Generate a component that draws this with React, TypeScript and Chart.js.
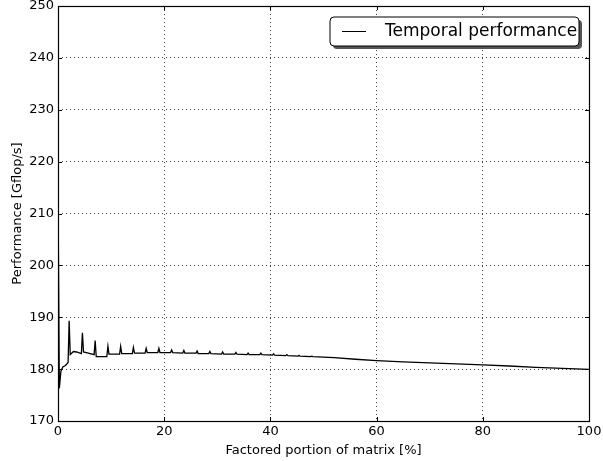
import React, { useEffect, useRef } from "react";
import { Chart, registerables } from "chart.js";

Chart.register(...registerables);

const seriesLabel = "Temporal performance";
const xTitle = "Factored portion of matrix [%]";
const yTitle = "Performance [Gflop/s]";

const portion: number[] = [
  0, 0.25, 0.55, 0.9, 1.4, 1.9, 2.1, 2.3, 2.9, 3.5, 4.4, 4.6, 4.8, 5.7, 6.8, 7.0, 7.2, 8.3, 9.2, 9.4, 9.6,
  10.7, 11.6, 11.8, 12.0, 13.1, 14.0, 14.2, 14.4, 16.4, 16.6, 16.8, 18.8, 19.0, 19.2, 21.2, 21.4, 21.6,
  23.5, 23.7, 23.9, 26.0, 26.2, 26.4, 28.4, 28.6, 28.8, 30.8, 31.0, 31.2, 33.3, 33.5, 33.7, 35.6, 35.8,
  36.0, 38.0, 38.2, 38.4, 40.4, 40.6, 40.8, 42.9, 43.1, 43.3, 45.2, 45.4, 45.6, 47.6, 47.8, 48.0, 52,
  56, 60, 65, 70, 75, 80, 85, 90, 95, 100,
];

const gflops: number[] = [
  215, 176.3, 179.6, 180.4, 180.7, 181.3, 189.3, 182.8, 183.4, 183.3, 183.0, 187.0, 183.3, 183.1, 182.8,
  185.5, 182.4, 182.4, 182.4, 184.4, 182.9, 182.9, 182.9, 184.4, 183.0, 183.0, 183.0, 184.2, 183.1,
  183.1, 184.0, 183.2, 183.2, 184.0, 183.2, 183.2, 183.7, 183.2, 183.1, 183.6, 183.1, 183.1, 183.5,
  183.0, 183.0, 183.4, 183.0, 182.9, 183.3, 182.9, 182.9, 183.2, 182.9, 182.8, 183.1, 182.8, 182.8,
  183.1, 182.8, 182.7, 182.95, 182.7, 182.6, 182.8, 182.6, 182.5, 182.65, 182.5, 182.4, 182.5, 182.4,
  182.2, 181.9, 181.65, 181.4, 181.2, 181.0, 180.8, 180.6, 180.35, 180.15, 179.95,
];

const FONT = "'DejaVu Sans', sans-serif";

const framePlugin = {
  id: "frame",
  afterDraw(chart: any) {
    const { ctx, chartArea } = chart;
    const { left, right, top, bottom } = chartArea;
    const xs = chart.scales.x;
    const ys = chart.scales.y;
    ctx.save();
    ctx.strokeStyle = "#000";
    ctx.lineWidth = 1;
    ctx.beginPath();
    xs.ticks.forEach((t: any) => {
      const px = Math.round(xs.getPixelForValue(t.value)) + 0.5;
      ctx.moveTo(px, bottom);
      ctx.lineTo(px, bottom - 4);
      ctx.moveTo(px, top);
      ctx.lineTo(px, top + 4);
    });
    ys.ticks.forEach((t: any) => {
      const py = Math.round(ys.getPixelForValue(t.value)) + 0.5;
      ctx.moveTo(left, py);
      ctx.lineTo(left + 4, py);
      ctx.moveTo(right, py);
      ctx.lineTo(right - 4, py);
    });
    ctx.stroke();
    ctx.lineWidth = 1.2;
    ctx.strokeRect(Math.round(left) + 0.5, Math.round(top) + 0.5, Math.round(right - left), Math.round(bottom - top));

    const bx = right - 259;
    const by = top + 11;
    const bw = 249;
    const bh = 29;
    const r = 4;
    const rr = (x: number, y: number, w: number, h: number) => {
      ctx.beginPath();
      ctx.moveTo(x + r, y);
      ctx.lineTo(x + w - r, y);
      ctx.quadraticCurveTo(x + w, y, x + w, y + r);
      ctx.lineTo(x + w, y + h - r);
      ctx.quadraticCurveTo(x + w, y + h, x + w - r, y + h);
      ctx.lineTo(x + r, y + h);
      ctx.quadraticCurveTo(x, y + h, x, y + h - r);
      ctx.lineTo(x, y + r);
      ctx.quadraticCurveTo(x, y, x + r, y);
      ctx.closePath();
    };
    rr(bx + 3, by + 3, bw, bh);
    ctx.fillStyle = "#555";
    ctx.fill();
    rr(bx, by, bw, bh);
    ctx.fillStyle = "#fff";
    ctx.fill();
    ctx.lineWidth = 1;
    ctx.strokeStyle = "#000";
    ctx.stroke();
    ctx.beginPath();
    ctx.moveTo(bx + 12, by + 14.5);
    ctx.lineTo(bx + 36, by + 14.5);
    ctx.stroke();
    ctx.fillStyle = "#000";
    ctx.font = `17px ${FONT}`;
    ctx.textBaseline = "middle";
    ctx.textAlign = "left";
    ctx.fillText(seriesLabel, bx + 55, by + 15);
    ctx.restore();
  },
};

export default function App() {
  const ref = useRef<HTMLCanvasElement | null>(null);
  useEffect(() => {
    if (!ref.current) return;
    const chart = new Chart(ref.current, {
      type: "line",
      data: {
        datasets: [
          {
            label: seriesLabel,
            data: portion.map((x, i) => ({ x, y: gflops[i] })),
            borderColor: "#000",
            borderWidth: 1.3,
            pointRadius: 0,
            tension: 0,
            fill: false,
          },
        ],
      },
      options: {
        animation: false,
        responsive: false,
        devicePixelRatio: 1,
        layout: { padding: { left: 0, top: 6, right: 14, bottom: 0 } },
        plugins: { legend: { display: false }, tooltip: { enabled: false } },
        scales: {
          x: {
            type: "linear",
            min: 0,
            max: 100,
            ticks: { stepSize: 20, color: "#000", font: { family: FONT, size: 13 }, padding: 3, maxRotation: 0 },
            grid: { color: "rgba(0,0,0,0.75)", lineWidth: 1, drawTicks: false },
            border: { display: false, dash: [1, 3] },
            title: { display: true, text: xTitle, color: "#000", font: { family: FONT, size: 13 }, padding: { top: 0, bottom: 3 } },
            afterFit: (s: any) => {
              s.height = 40;
              s.paddingLeft = 0;
              s.paddingRight = 0;
            },
          },
          y: {
            type: "linear",
            min: 170,
            max: 250,
            ticks: { stepSize: 10, color: "#000", font: { family: FONT, size: 13 }, padding: 4 },
            grid: { color: "rgba(0,0,0,0.75)", lineWidth: 1, drawTicks: false },
            border: { display: false, dash: [1, 3] },
            title: { display: true, text: yTitle, color: "#000", font: { family: FONT, size: 13 }, padding: { top: 10, bottom: 0 } },
            afterFit: (s: any) => {
              s.width = 58;
              s.paddingTop = 0;
              s.paddingBottom = 0;
            },
          },
        },
      },
      plugins: [framePlugin],
    });
    return () => chart.destroy();
  }, []);
  return (
    <div style={{ position: "fixed", left: 0, top: 0, width: 603, height: 461, background: "#fff" }}>
      <canvas ref={ref} width={603} height={461} style={{ width: 603, height: 461, display: "block" }} />
    </div>
  );
}
